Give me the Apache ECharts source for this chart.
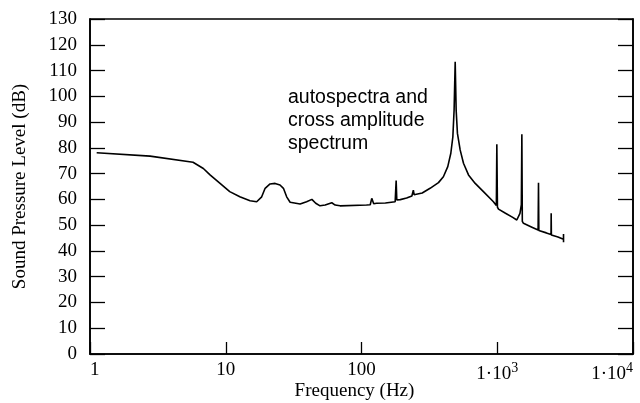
<!DOCTYPE html>
<html>
<head>
<meta charset="utf-8">
<script src="https://cdn.jsdelivr.net/npm/echarts@6/dist/echarts.min.js"></script>
<style>html,body{margin:0;padding:0;background:#fff;}#c{width:640px;height:403px;}</style>
</head>
<body>
<div id="c"></div>
<script>
// Frequency (Hz) and sound pressure level (dB)
var freq = [1.12, 2.77, 5.74, 6.84, 7.66, 9.08, 10.7, 12.7, 15.1, 16.9, 18.4, 19.5, 21.2, 23.1, 25.1, 26.6, 28.1, 29.8, 35.3, 39.4, 43.1, 46.0, 49.5, 54.0, 60.4, 64.0, 69.5,
  109, 116, 119, 123, 129, 150, 177, 180, 182, 185, 193, 215, 235, 238, 241, 244, 248,
  280, 320, 369, 401, 432, 455, 471, 481, 490, 498, 509, 533, 564, 614, 688, 791, 937,
  985, 993, 1003, 1021, 1150, 1300, 1393, 1470, 1505, 1518, 1530, 1560, 1800, 2000, 2013, 2025, 2300, 2490, 2496, 2505, 2800, 3076, 3077, 3078];
var spl = [78.1, 76.8, 74.4, 72.0, 69.5, 66.2, 63.0, 61.0, 59.5, 59.1, 61.0, 64.3, 66.0, 66.2, 65.6, 64.3, 61.0, 58.9, 58.2, 59.1, 60.0, 58.5, 57.5, 57.8, 58.7, 57.8, 57.5,
  57.8, 57.9, 60.4, 58.3, 58.5, 58.6, 59.1, 67.3, 59.8, 59.4, 59.9, 60.5, 61.3, 61.6, 63.6, 61.8, 61.5,
  62.5, 64.3, 66.5, 68.8, 72.7, 77.9, 84.3, 94.7, 113.4, 94.7, 85.6, 79.2, 74.0, 69.5, 66.2, 63.0, 59.1,
  57.6, 81.4, 57.0, 56.2, 54.6, 53.0, 52.0, 54.6, 58.0, 85.3, 51.5, 50.7, 49.2, 48.1, 66.5, 47.9, 47.0, 46.4, 54.6, 46.2, 45.4, 44.5, 46.6, 43.4];
var yTicks = [0, 130, 10];
var xTickLabels = {1: '1', 10: '10', 100: '100', 1000: '1·10{s|3}', 10000: '1·10{s|4}'};
var annotation = ['autospectra and', 'cross amplitude', 'spectrum'];

var data = freq.map(function (f, i) { return [f, spl[i]]; });
var serif = 'Liberation Serif';
var chart = echarts.init(document.getElementById('c'));
chart.setOption({
  animation: false,
  backgroundColor: '#fff',
  grid: {left: 90, right: 7, top: 19, bottom: 49, outerBoundsMode: 'none', containLabel: false,
    show: true, borderColor: '#000', borderWidth: 1.6, backgroundColor: 'transparent'},
  xAxis: {
    type: 'log', logBase: 10, min: 1, max: 10000,
    name: 'Frequency (Hz)', nameLocation: 'middle', nameGap: 28, nameMoveOverlap: false,
    nameTextStyle: {fontFamily: serif, fontSize: 19, color: '#000', padding: [0, 14, 0, 0]},
    axisLine: {lineStyle: {color: '#000', width: 1.6}},
    axisTick: {inside: true, length: 12, lineStyle: {color: '#000', width: 1.3}},
    minorTick: {show: false},
    splitLine: {show: false},
    axisLabel: {
      margin: 7, color: '#000', fontFamily: serif, fontSize: 19,
      alignMinLabel: 'left', alignMaxLabel: 'right', hideOverlap: false,
      formatter: function (v) { return xTickLabels[Math.round(v)] || ''; },
      rich: {s: {fontFamily: serif, fontSize: 14, verticalAlign: 'top', padding: [0, 0, 12, 0], color: '#000'}}
    }
  },
  yAxis: [{
    type: 'value', min: yTicks[0], max: yTicks[1], interval: yTicks[2],
    name: 'Sound Pressure Level (dB)', nameLocation: 'middle', nameGap: 60, nameRotate: 90, nameMoveOverlap: false,
    nameTextStyle: {fontFamily: serif, fontSize: 19, color: '#000'},
    axisLine: {show: true, lineStyle: {color: '#000', width: 1.6}},
    axisTick: {show: true, inside: true, length: 15, lineStyle: {color: '#000', width: 1.3}},
    splitLine: {show: false},
    axisLabel: {margin: 13, color: '#000', fontFamily: serif, fontSize: 19}
  }, {
    type: 'value', position: 'right', min: yTicks[0], max: yTicks[1], interval: yTicks[2],
    axisLine: {show: true, lineStyle: {color: '#000', width: 1.6}},
    axisTick: {show: true, inside: true, length: 15, lineStyle: {color: '#000', width: 1.3}},
    axisLabel: {show: false},
    splitLine: {show: false}
  }],
  graphic: annotation.map(function (t, i) {
    return {type: 'text', left: 288, top: 88 + i * 23,
      style: {text: t, fontFamily: 'Liberation Sans', fontSize: 19.5, fill: '#000'}};
  }),
  series: [{
    type: 'line', data: data, showSymbol: false, symbol: 'none',
    lineStyle: {color: '#000', width: 1.6}, smooth: false
  }]
});
</script>
</body>
</html>
